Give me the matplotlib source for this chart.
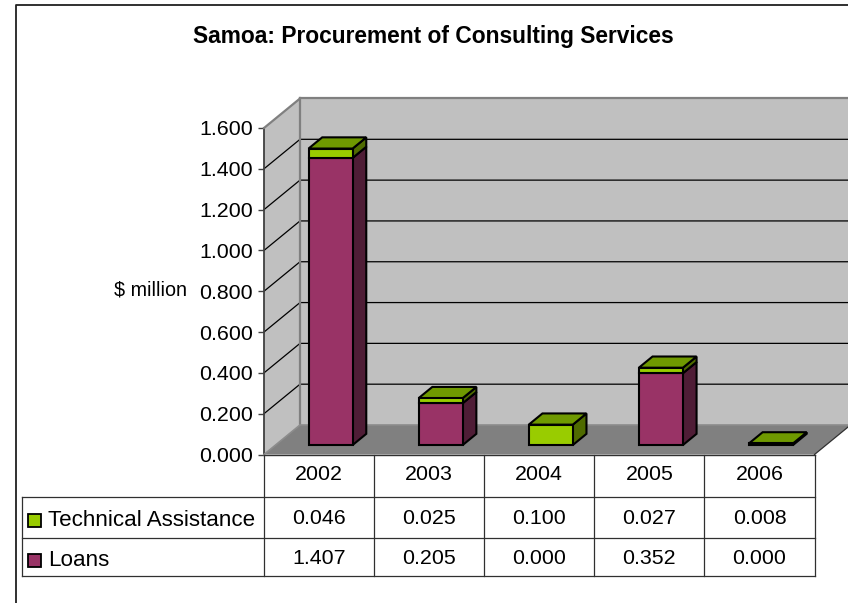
import matplotlib
matplotlib.use("Agg")
import matplotlib.pyplot as plt
from matplotlib.patches import Polygon, Rectangle

plt.rcParams['font.family'] = ['Liberation Sans', 'DejaVu Sans']

# chart data
years = ["2002", "2003", "2004", "2005", "2006"]
technical_assistance = [0.046, 0.025, 0.100, 0.027, 0.008]
loans = [1.407, 0.205, 0.000, 0.352, 0.000]
y_ticks = [0.0, 0.2, 0.4, 0.6, 0.8, 1.0, 1.2, 1.4, 1.6]

W, H = 848, 603
FONT = 15.4

# front plane of the fake 3d box, in pixels
BOX_L, BOX_R, BOX_T, BOX_B = 264, 814.5, 128, 454.5

# wall depth in data units (about 36 px right, 29.5 px up)
DX = 36 / ((BOX_R - BOX_L) / len(years))
DY = 29.5 / ((BOX_B - BOX_T) / 1.6)

# bar placement inside the box
BAR_W = 0.4
D0, D1 = 0.32, 0.70

WALL = "#c0c0c0"
FLOOR = "#808080"
EDGE = "#808080"

LOAN_FACES = {"front": "#993366", "side": "#4f1d36", "top": "#7a2a52"}
TA_FACES = {"front": "#99cc00", "side": "#4f6b00", "top": "#6f9900"}


def pt(x, v, d):
    # data position pushed back to depth d (0 front, 1 back wall)
    return (x + d * DX, v + d * DY)


def draw_box(ax, x0, x1, v0, v1, faces, with_top):
    kw = dict(edgecolor="black", linewidth=1.5, joinstyle="miter", clip_on=False, zorder=5)
    ax.add_patch(Polygon([pt(x1, v0, D0), pt(x1, v0, D1), pt(x1, v1, D1), pt(x1, v1, D0)],
                         facecolor=faces["side"], **kw))
    if with_top:
        ax.add_patch(Polygon([pt(x0, v1, D0), pt(x1, v1, D0), pt(x1, v1, D1), pt(x0, v1, D1)],
                             facecolor=faces["top"], **kw))
    ax.add_patch(Polygon([pt(x0, v0, D0), pt(x1, v0, D0), pt(x1, v1, D0), pt(x0, v1, D0)],
                         facecolor=faces["front"], **kw))


fig = plt.figure(figsize=(W / 100, H / 100), dpi=100, facecolor="white")

# overlay in pixel coords for the chart frame and data table
over = fig.add_axes([0, 0, 1, 1])
over.set_xlim(0, W)
over.set_ylim(H, 0)
over.axis("off")

ax = fig.add_axes([BOX_L / W, (H - BOX_B) / H, (BOX_R - BOX_L) / W, (BOX_B - BOX_T) / H])
ax.set_xlim(0, len(years))
ax.set_ylim(0, 1.6)
ax.patch.set_visible(False)
for side in ["top", "right", "bottom"]:
    ax.spines[side].set_visible(False)
ax.spines["left"].set_color("#404040")
ax.spines["left"].set_linewidth(1.3)
ax.set_xticks([])
ax.set_yticks(y_ticks)
ax.set_yticklabels([f"{v:.3f}" for v in y_ticks], fontsize=FONT, color="black")
ax.tick_params(axis="y", length=4, width=1, color="#404040", pad=4)
ax.set_ylabel("$ million", fontsize=14.2, rotation=0, labelpad=0)
ax.yaxis.set_label_coords((187.5 - BOX_L) / (BOX_R - BOX_L), (BOX_B - 290) / (BOX_B - BOX_T))
ax.yaxis.label.set_ha("right")
ax.yaxis.label.set_va("center")

n = len(years)
# walls and floor
ax.add_patch(Polygon([pt(0, 0, 0), pt(0, 0, 1), pt(0, 1.6, 1), pt(0, 1.6, 0)],
                     facecolor=WALL, edgecolor="none", clip_on=False, zorder=1))
ax.add_patch(Polygon([pt(0, 0, 1), pt(n, 0, 1), pt(n, 1.6, 1), pt(0, 1.6, 1)],
                     facecolor=WALL, edgecolor="none", clip_on=False, zorder=1))
ax.add_patch(Polygon([pt(0, 0, 0), pt(n, 0, 0), pt(n, 0, 1), pt(0, 0, 1)],
                     facecolor=FLOOR, edgecolor="none", clip_on=False, zorder=1))

# gridlines, along the left wall and across the back wall
for v in y_ticks[1:-1]:
    xs, ys = zip(pt(0, v, 0), pt(0, v, 1), pt(n, v, 1))
    ax.plot(xs, ys, color="black", linewidth=0.9, clip_on=False, zorder=2)

# wall edges
for a, b in [(pt(0, 1.6, 0), pt(0, 1.6, 1)), (pt(0, 1.6, 1), pt(n, 1.6, 1)), (pt(0, 0, 1), pt(0, 1.6, 1))]:
    ax.plot([a[0], b[0]], [a[1], b[1]], color=EDGE, linewidth=1.6, clip_on=False, zorder=3)
for a, b in [(pt(0, 0, 1), pt(n, 0, 1)), (pt(0, 0, 0), pt(0, 0, 1))]:
    ax.plot([a[0], b[0]], [a[1], b[1]], color="#8c8c8c", linewidth=1.2, clip_on=False, zorder=3)
a, b = pt(n, 0, 0), pt(n, 0, 1)
ax.plot([a[0], b[0]], [a[1], b[1]], color="#303030", linewidth=0.9, clip_on=False, zorder=3)
ax.plot([0, n], [0, 0], color="#303030", linewidth=1.0, clip_on=False, zorder=3)

# stacked bars
for i, (ln, ta) in enumerate(zip(loans, technical_assistance)):
    x0 = i + (1 - BAR_W) / 2
    x1 = x0 + BAR_W
    if ln > 0:
        draw_box(ax, x0, x1, 0, ln, LOAN_FACES, False)
    draw_box(ax, x0, x1, ln, ln + ta, TA_FACES, True)

# title
over.text(433, 36.5, "Samoa: Procurement of Consulting Services", fontsize=16.4, fontweight="bold",
          ha="center", va="center")

# chart frame, only top and left show in the crop
over.plot([W, 15.5, 15.5], [4.5, 4.5, H], color="#202020", linewidth=1.3, clip_on=False)

# data table
col_x = [BOX_L + i * (BOX_R - BOX_L) / n for i in range(n + 1)]
TABLE_L = 22
ROW_Y = [BOX_B, 496.5, 538, 576]
LINE = "#303030"
for y in ROW_Y[1:]:
    over.plot([TABLE_L, BOX_R], [y, y], color=LINE, linewidth=0.9)
for x in col_x:
    over.plot([x, x], [ROW_Y[0], ROW_Y[3]], color=LINE, linewidth=0.9)
over.plot([TABLE_L, TABLE_L], [ROW_Y[1], ROW_Y[3]], color=LINE, linewidth=0.9)

for i, yr in enumerate(years):
    cx = (col_x[i] + col_x[i + 1]) / 2
    over.text(cx, 475, yr, fontsize=FONT, ha="center", va="center")
    over.text(cx, 518.5, f"{technical_assistance[i]:.3f}", fontsize=FONT, ha="center", va="center")
    over.text(cx, 558.5, f"{loans[i]:.3f}", fontsize=FONT, ha="center", va="center")

for label, color, key_y, text_y in [("Technical Assistance", TA_FACES["front"], 514, 520.5),
                                    ("Loans", LOAN_FACES["front"], 554, 560.5)]:
    over.add_patch(Rectangle((27.5, key_y), 13, 13, facecolor=color, edgecolor="black", linewidth=1.3))
    over.text(48, text_y, label, fontsize=16.1, ha="left", va="center")

fig.savefig("out.png", dpi=100)
